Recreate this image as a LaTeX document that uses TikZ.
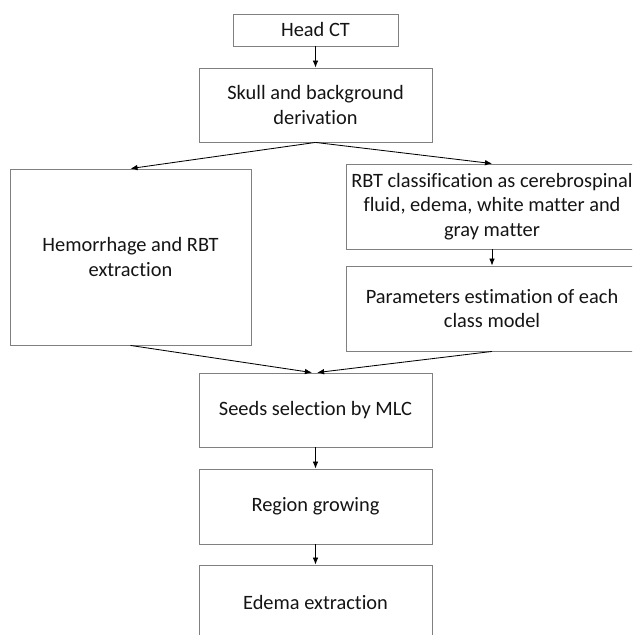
\documentclass[tikz,border=0pt]{standalone}
\usepackage{fontspec}
\setmainfont{Carlito}[Ligatures=NoCommon]
\usepackage{tikz}
\usetikzlibrary{arrows.meta}
\usepackage{xcolor}

\definecolor{boxline}{RGB}{128,128,128}
\definecolor{boxtext}{RGB}{20,20,20}

\tikzset{
  stepbox/.style={draw=boxline, line width=0.6pt, align=center, inner sep=0pt,
    text=boxtext, font=\fontsize{14.5}{17.2}\selectfont},
  flow/.style={-{Latex[length=5pt,width=4pt]}, line width=0.6pt, black}
}

\begin{document}
\begin{tikzpicture}[x=0.025cm, y=-0.025cm]

  % picture frame (pixels of the original, y going down)
  \useasboundingbox (0,0) rectangle (632,635);
  \clip (0,0) rectangle (632,635);

  % centre column
  \node[stepbox, minimum width=4.125cm, minimum height=0.8cm] (head) at (315.5,30) {Head CT};
  \node[stepbox, minimum width=5.825cm, minimum height=1.85cm] (skull) at (315.5,105) {Skull and background\\derivation};

  % left branch
  \node[stepbox, minimum width=6.025cm, minimum height=4.4cm] (hem) at (130.5,257) {Hemorrhage and RBT\\extraction};

  % right branch
  \node[stepbox, minimum width=7.3cm, minimum height=2.125cm] (rbt) at (492,206.5) {RBT classification as cerebrospinal\\fluid, edema, white matter and\\gray matter};
  \node[stepbox, minimum width=7.3cm, minimum height=2.125cm] (param) at (492,308.5) {Parameters estimation of each\\class model};

  % joining again
  \node[stepbox, minimum width=5.825cm, minimum height=1.85cm] (seeds) at (315.5,410) {Seeds selection by MLC};
  \node[stepbox, minimum width=5.825cm, minimum height=1.875cm] (grow) at (315.5,506.5) {Region growing};
  \node[stepbox, minimum width=5.825cm, minimum height=1.875cm] (edema) at (315.5,602.5) {Edema extraction};

  \coordinate (seedsl) at ([xshift=-0.09cm]seeds.north);
  \coordinate (seedsr) at ([xshift=0.04cm]seeds.north);

  % connectors
  \draw[flow] (head) -- (skull);
  \draw[flow] (skull.south) -- (hem.north);
  \draw[flow] (skull.south) -- (rbt.north);
  \draw[flow] (rbt) -- (param);
  \draw[flow] (hem.south) -- (seedsl);
  \draw[flow] (param.south) -- (seedsr);
  \draw[flow] (seeds) -- (grow);
  \draw[flow] (grow) -- (edema);

\end{tikzpicture}
\end{document}
